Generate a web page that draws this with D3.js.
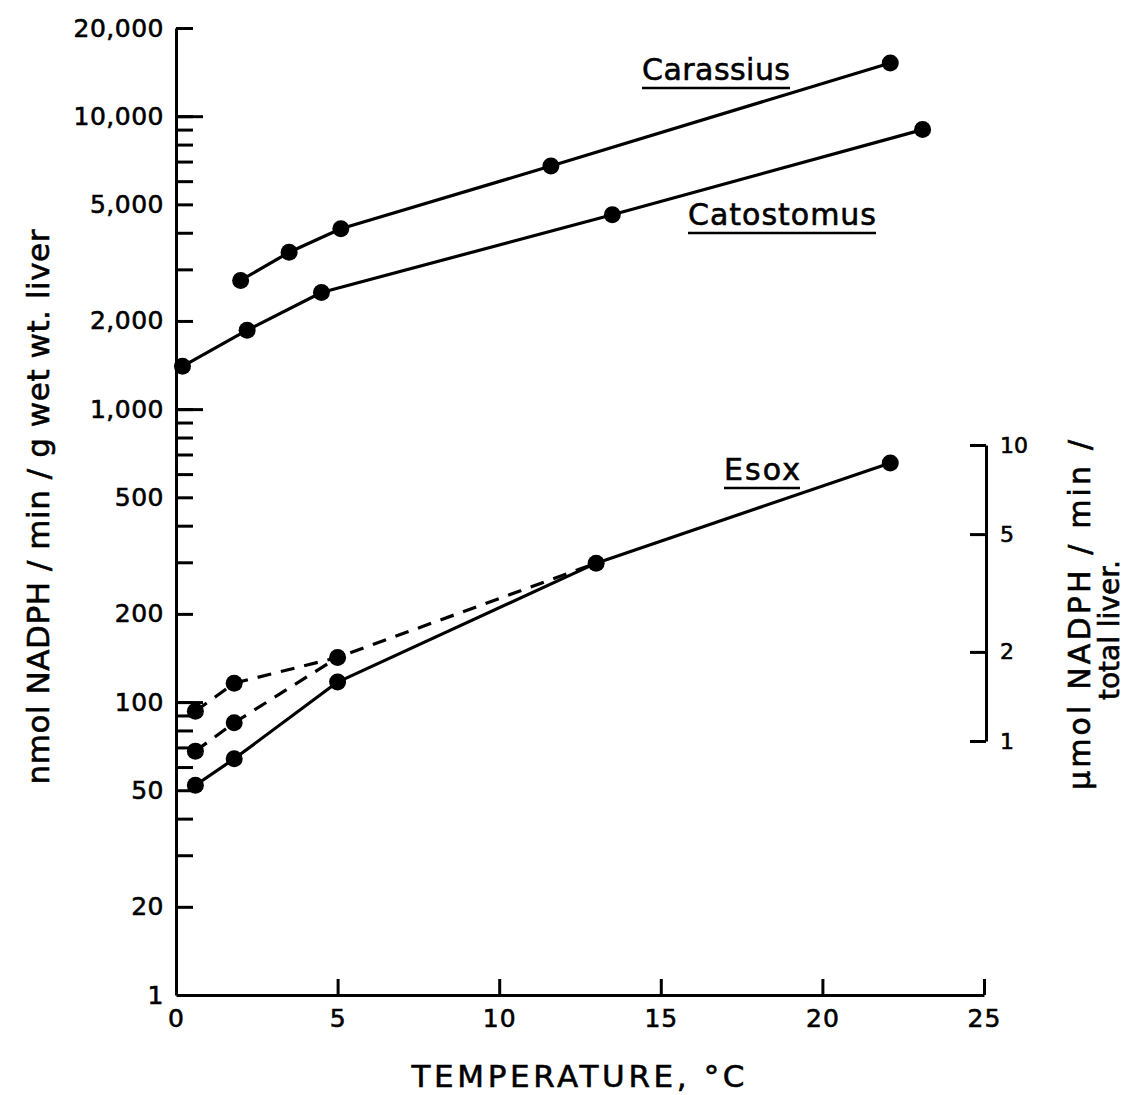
<!DOCTYPE html>
<html><head><meta charset="utf-8">
<script src="https://cdn.jsdelivr.net/npm/d3@7"></script>
<style>
html,body{margin:0;padding:0;background:#fff;}
text{font-family:"DejaVu Sans",sans-serif;fill:#000;stroke:#000;stroke-width:0.6px;}
</style></head>
<body>
<svg id="chart" width="1125" height="1095"></svg>
<script>
// ---- data ----
const carassius = [[2.0, 2750], [3.5, 3430], [5.1, 4130], [11.6, 6760], [22.1, 15200]];
const catostomus = [[0.2, 1400], [2.2, 1860], [4.5, 2500], [13.5, 4610], [23.1, 9000]];
const esoxSolid = [[0.6, 52], [1.8, 64], [5.0, 117], [13.0, 298], [22.1, 655]];
const esoxDashUpper = [[0.6, 93], [1.8, 116], [5.0, 142], [13.0, 298]];
const esoxDashLower = [[0.6, 68], [1.8, 85], [5.0, 142]];
const yTickValues = [10, 20, 50, 100, 200, 500, 1000, 2000, 5000, 10000, 20000];
const yTickLabels = ["1", "20", "50", "100", "200", "500", "1,000", "2,000", "5,000", "10,000", "20,000"];
const yDecades = [100, 1000, 10000];
const xTickValues = [0, 5, 10, 15, 20, 25];
const rTickValues = [1, 2, 5, 10];
const rTickLabels = ["1", "2", "5", "10"];
const seriesLabels = [
  {name: "Carassius", x: 642, y: 80, w: 148},
  {name: "Catostomus", x: 688, y: 225, w: 188},
  {name: "Esox", x: 724, y: 480, w: 76}
];

const svg = d3.select("#chart");
const x = d3.scaleLinear().domain([0, 25]).range([176, 984]);
const y = d3.scaleLog().domain([10, 20000]).range([995, 28]);
const yR = d3.scaleLog().domain([1, 10]).range([741, 445]);

// minor tick values (integer multiples of each decade)
const minor = [];
[10, 100, 1000, 10000].forEach(d => { for (let m = 1; m <= 9; m++) { const v = m * d; if (v >= 20 && v <= 20000) minor.push(v); } });

const styleAxis = g => {
  g.selectAll("path,line").attr("stroke", "#000").attr("stroke-width", 3);
};

// left axis: minor ticks + domain
svg.append("g").attr("transform", "translate(176,0)")
  .call(d3.axisLeft(y).tickValues(minor).tickSizeInner(-17).tickSizeOuter(0).tickFormat(""))
  .call(styleAxis);
// decade ticks
svg.append("g").attr("transform", "translate(176,0)")
  .call(d3.axisLeft(y).tickValues(yDecades).tickSizeInner(-27).tickSizeOuter(0).tickFormat(""))
  .call(g => g.select(".domain").remove())
  .call(styleAxis);
// labels
svg.append("g").attr("transform", "translate(176,0)")
  .call(d3.axisLeft(y).tickValues(yTickValues).tickSize(0).tickPadding(12)
    .tickFormat((d, i) => yTickLabels[i]))
  .call(g => g.select(".domain").remove())
  .call(g => g.selectAll("text").attr("font-size", 25).attr("font-family", "DejaVu Sans").attr("letter-spacing", 0.5));

// bottom axis
svg.append("g").attr("transform", "translate(0,995)")
  .call(d3.axisBottom(x).tickValues(xTickValues).tickSizeInner(-16).tickSizeOuter(0).tickPadding(14))
  .call(styleAxis)
  .call(g => g.selectAll(".tick").filter(d => d === 0).select("line").remove())
  .call(g => g.selectAll("text").attr("font-size", 25).attr("font-family", "DejaVu Sans").attr("letter-spacing", 1));

// right axis
svg.append("g").attr("transform", "translate(986,0)")
  .call(d3.axisRight(yR).tickValues(rTickValues).tickSizeInner(-16).tickSizeOuter(0).tickPadding(14)
    .tickFormat((d, i) => rTickLabels[i]))
  .call(styleAxis)
  .call(g => g.selectAll("text").attr("font-size", 22).attr("font-family", "DejaVu Sans"));

// lines
const lineLin = d3.line().x(d => x(d[0])).y(d => y(d[1]));

const drawLine = (data, dashed) => {
  svg.append("path").datum(data).attr("d", lineLin).attr("fill", "none")
    .attr("stroke", "#000").attr("stroke-width", 3.2).attr("stroke-linejoin", "round")
    .attr("stroke-dasharray", dashed ? "14,10" : null);
};
drawLine(carassius, false);
drawLine(catostomus, false);
drawLine(esoxSolid, false);
drawLine(esoxDashUpper, true);
drawLine(esoxDashLower, true);

const drawPts = data => {
  svg.append("g").selectAll("circle").data(data).join("circle")
    .attr("cx", d => x(d[0])).attr("cy", d => y(d[1])).attr("r", 8.5).attr("fill", "#000");
};
drawPts(carassius);
drawPts(catostomus);
drawPts(esoxSolid);
drawPts(esoxDashUpper.slice(0, 3));
drawPts(esoxDashLower.slice(0, 2));

// series labels with underline
seriesLabels.forEach(s => {
  svg.append("text").attr("x", s.x).attr("y", s.y).attr("font-size", 30)
    .attr("textLength", s.w).attr("lengthAdjust", "spacing").text(s.name);
  svg.append("line").attr("x1", s.x).attr("x2", s.x + s.w).attr("y1", s.y + 8).attr("y2", s.y + 8)
    .attr("stroke", "#000").attr("stroke-width", 2.5);
});

// axis titles
svg.append("text").attr("transform", "translate(49,507) rotate(-90)").attr("text-anchor", "middle")
  .attr("font-size", 31).attr("textLength", 555).attr("lengthAdjust", "spacing")
  .text("nmol NADPH / min / g wet wt. liver");
svg.append("text").attr("x", 578).attr("y", 1087).attr("text-anchor", "middle")
  .attr("font-size", 31).attr("textLength", 333).attr("lengthAdjust", "spacing")
  .text("TEMPERATURE, °C");
svg.append("text").attr("transform", "translate(1090,615) rotate(-90)").attr("text-anchor", "middle")
  .attr("font-size", 30).attr("textLength", 350).attr("lengthAdjust", "spacing")
  .text("μmol NADPH / min /");
svg.append("text").attr("transform", "translate(1119,630) rotate(-90)").attr("text-anchor", "middle")
  .attr("font-size", 28).attr("textLength", 140).attr("lengthAdjust", "spacing")
  .text("total liver.");
</script>
</body></html>
